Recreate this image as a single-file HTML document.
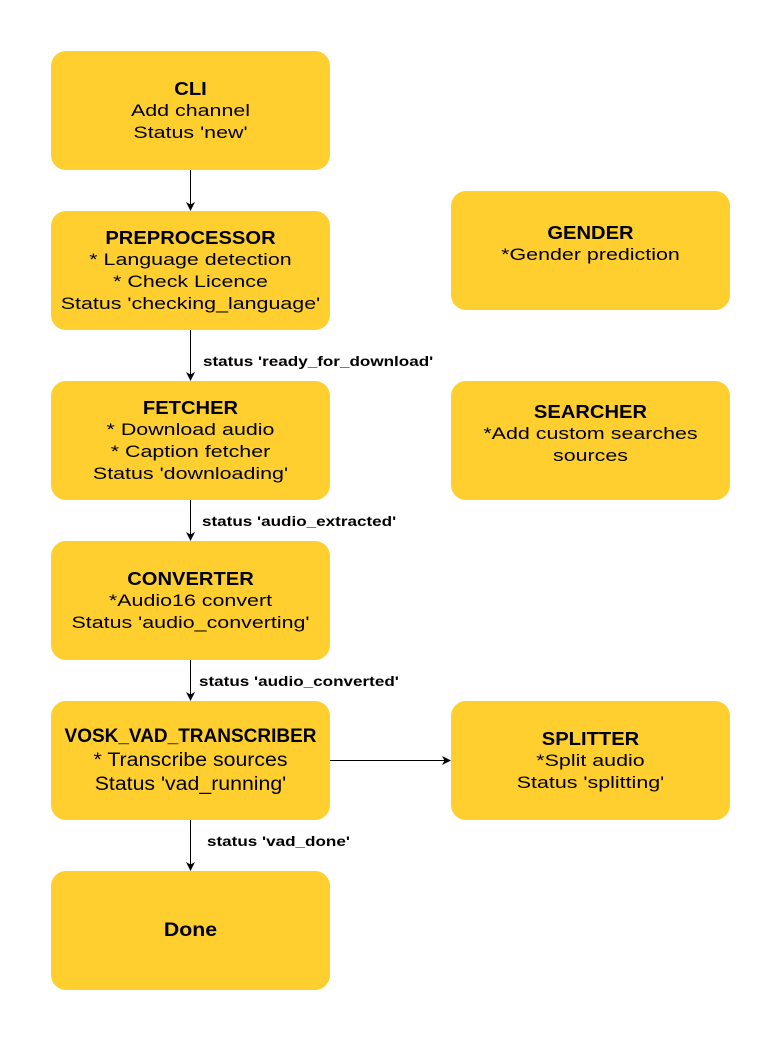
<!DOCTYPE html>
<html><head><meta charset="utf-8"><style>
body{margin:0;width:781px;height:1041px;background:#fff;position:relative;font-family:"Liberation Sans",sans-serif;overflow:hidden}
.b{position:absolute;width:279px;height:119px;background:#fecf2f;border-radius:15px;color:#000}
.t{position:absolute;left:0;width:100%;text-align:center;font-size:17px;line-height:22px;white-space:nowrap;transform:scaleX(1.26);transform-origin:50% 50%}
.h{font-weight:bold;font-size:18px;transform:scaleX(1.12)}
.l{position:absolute;font-size:14px;font-weight:bold;white-space:nowrap;transform:scaleX(1.22);transform-origin:0 50%}
svg{position:absolute;left:0;top:0}
</style></head><body>
<div class="b" style="left:51px;top:51px"><div class="t h" style="top:27px">CLI</div><div class="t" style="top:49px">Add channel</div><div class="t" style="top:71px">Status 'new'</div></div>
<div class="b" style="left:51px;top:211px"><div class="t h" style="top:16px">PREPROCESSOR</div><div class="t" style="top:38px">* Language detection</div><div class="t" style="top:60px">* Check Licence</div><div class="t" style="top:82px">Status 'checking_language'</div></div>
<div class="b" style="left:51px;top:381px"><div class="t h" style="top:16px">FETCHER</div><div class="t" style="top:38px">* Download audio</div><div class="t" style="top:60px">* Caption fetcher</div><div class="t" style="top:82px">Status 'downloading'</div></div>
<div class="b" style="left:51px;top:541px"><div class="t h" style="top:27px">CONVERTER</div><div class="t" style="top:49px">*Audio16 convert</div><div class="t" style="top:71px">Status 'audio_converting'</div></div>
<div class="b" style="left:51px;top:701px"><div class="t h" style="top:25px;font-size:19px;transform:scaleX(1.0)">VOSK_VAD_TRANSCRIBER</div><div class="t" style="top:49px;font-size:19px;transform:scaleX(1.12)">* Transcribe sources</div><div class="t" style="top:73px;font-size:19px;transform:scaleX(1.12)">Status 'vad_running'</div></div>
<div class="b" style="left:51px;top:871px"><div class="t h" style="top:49px;font-size:19px">Done</div></div>
<div class="b" style="left:451px;top:191px"><div class="t h" style="top:31px">GENDER</div><div class="t" style="top:53px">*Gender prediction</div></div>
<div class="b" style="left:451px;top:381px"><div class="t h" style="top:20px">SEARCHER</div><div class="t" style="top:42px">*Add custom searches</div><div class="t" style="top:64px">sources</div></div>
<div class="b" style="left:451px;top:701px"><div class="t h" style="top:27px">SPLITTER</div><div class="t" style="top:49px">*Split audio</div><div class="t" style="top:71px">Status 'splitting'</div></div>
<div class="l" style="left:203px;top:353px">status 'ready_for_download'</div>
<div class="l" style="left:202px;top:513px">status 'audio_extracted'</div>
<div class="l" style="left:199px;top:673px">status 'audio_converted'</div>
<div class="l" style="left:207px;top:833px">status 'vad_done'</div>
<svg width="781" height="1041">
<g stroke="#000" stroke-width="1" fill="none">
<line x1="190.5" y1="170" x2="190.5" y2="205"/>
<line x1="190.5" y1="330" x2="190.5" y2="375"/>
<line x1="190.5" y1="500" x2="190.5" y2="535"/>
<line x1="190.5" y1="660" x2="190.5" y2="695"/>
<line x1="190.5" y1="820" x2="190.5" y2="865"/>
<line x1="330" y1="760.5" x2="445" y2="760.5"/>
</g>
<g fill="#000">
<path d="M186 202 L190.5 211 L195 202 L190.5 204.5Z"/>
<path d="M186 372 L190.5 381 L195 372 L190.5 374.5Z"/>
<path d="M186 532 L190.5 541 L195 532 L190.5 534.5Z"/>
<path d="M186 692 L190.5 701 L195 692 L190.5 694.5Z"/>
<path d="M186 862 L190.5 871 L195 862 L190.5 864.5Z"/>
<path d="M442 756 L451 760.5 L442 765 L444.5 760.5Z"/>
</g>
</svg>
</body></html>
